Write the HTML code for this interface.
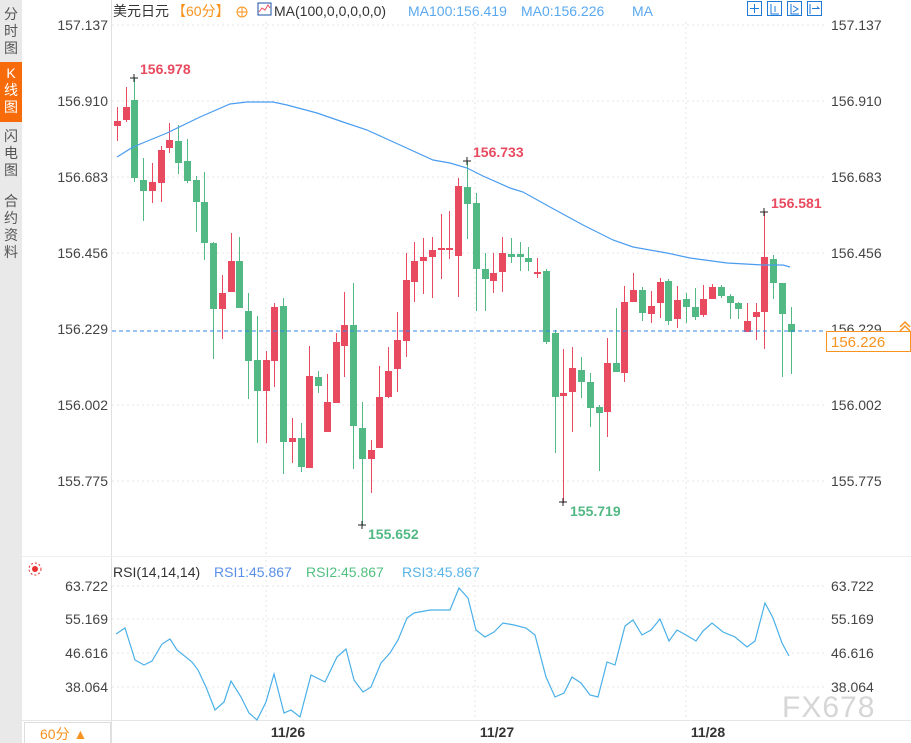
<!DOCTYPE html>
<html><head><meta charset="utf-8"><style>
body{margin:0;width:911px;height:743px;background:#fff;overflow:hidden;font-family:"Liberation Sans","Noto Sans CJK SC",sans-serif;position:relative}
.side{position:absolute;left:0;top:0;width:22px;height:743px;background:#e9e9e9}
.tab{position:absolute;left:0;width:22px;font-size:14px;line-height:17px;text-align:center;color:#555}
svg{position:absolute;left:0;top:0}
</style></head><body>
<div class="side"></div>
<div class="tab" style="top:6px">分<br>时<br>图</div>
<div class="tab" style="top:62px;height:60px;background:#f76b0b;color:#fff;padding-top:3px;box-sizing:border-box">K<br>线<br>图</div>
<div class="tab" style="top:128px">闪<br>电<br>图</div>
<div class="tab" style="top:193px">合<br>约<br>资<br>料</div>
<svg id="s" width="911" height="743" xmlns="http://www.w3.org/2000/svg" font-family="Liberation Sans, Noto Sans CJK SC, sans-serif">
<g stroke="#e4e4e4" stroke-dasharray="2,3">
<line x1="112" y1="25" x2="826" y2="25"/><line x1="112" y1="101" x2="826" y2="101"/><line x1="112" y1="177" x2="826" y2="177"/><line x1="112" y1="253" x2="826" y2="253"/><line x1="112" y1="405" x2="826" y2="405"/><line x1="112" y1="481" x2="826" y2="481"/>
<line x1="266" y1="22" x2="266" y2="556"/><line x1="475" y1="22" x2="475" y2="556"/><line x1="686" y1="22" x2="686" y2="556"/>
<line x1="112" y1="586" x2="826" y2="586"/><line x1="112" y1="619" x2="826" y2="619"/><line x1="112" y1="653" x2="826" y2="653"/><line x1="112" y1="687" x2="826" y2="687"/>
<line x1="266" y1="560" x2="266" y2="720"/><line x1="475" y1="560" x2="475" y2="720"/><line x1="686" y1="560" x2="686" y2="720"/>
</g>
<line x1="111.5" y1="0" x2="111.5" y2="743" stroke="#e0e0e0"/>
<line x1="22" y1="556.5" x2="911" y2="556.5" stroke="#eee"/>
<line x1="22" y1="720.5" x2="911" y2="720.5" stroke="#e6e6e6"/>
<g font-size="14" fill="#444" text-anchor="end">
<text x="108" y="30">157.137</text><text x="108" y="106">156.910</text><text x="108" y="182">156.683</text><text x="108" y="258">156.456</text><text x="108" y="334">156.229</text><text x="108" y="410">156.002</text><text x="108" y="486">155.775</text>
<text x="108" y="591">63.722</text><text x="108" y="624">55.169</text><text x="108" y="658">46.616</text><text x="108" y="692">38.064</text>
</g>
<g font-size="14" fill="#444">
<text x="831" y="30">157.137</text><text x="831" y="106">156.910</text><text x="831" y="182">156.683</text><text x="831" y="258">156.456</text><text x="831" y="334">156.229</text><text x="831" y="410">156.002</text><text x="831" y="486">155.775</text>
<text x="831" y="591">63.722</text><text x="831" y="624">55.169</text><text x="831" y="658">46.616</text><text x="831" y="692">38.064</text>
</g>
<g id="cd"></g>
<polyline fill="none" stroke="#4a9cf0" stroke-width="1.2" points="117,157 133,147 167,133 200,117 230,104 247,102 273,102 287,105 317,113 343,122 367,130 400,145 433,160 450,163 467,168 483,176 510,188 523,192 550,207 583,225 613,240 633,247 667,253 690,258 727,263 763,265 783,265 790,267"/>
<line x1="112" y1="331" x2="826" y2="331" stroke="#2f86e8" stroke-dasharray="4,3"/>
<rect x="826.5" y="331.5" width="84" height="20" fill="#fff" stroke="#f7931e"/>
<text x="831" y="347" font-size="15" fill="#f7931e">156.226</text>
<path d="M900 327 l5 -5 l5 5 M900 331 l5 -5 l5 5" stroke="#f7931e" fill="none" stroke-width="1.5"/>
<g font-size="14" font-weight="bold">
<text x="140" y="74" fill="#e84a5f">156.978</text>
<text x="473" y="157" fill="#e84a5f">156.733</text>
<text x="771" y="208" fill="#e84a5f">156.581</text>
<text x="368" y="539" fill="#52b985">155.652</text>
<text x="570" y="516" fill="#52b985">155.719</text>
</g>
<g stroke="#222" stroke-width="1">
<path d="M130 78h8M134 74v8M463 161h8M467 157v8M760 212h8M764 208v8M358 525h8M362 521v8M559 502h8M563 498v8"/>
</g>
<text x="113" y="16" font-size="14" fill="#333">美元日元</text>
<text x="172" y="16" font-size="14" fill="#f7931e">【60分】</text>
<circle cx="242" cy="12" r="5" fill="none" stroke="#f7931e"/><path d="M237 12h10M242 7v10" stroke="#f7931e"/>
<rect x="258" y="3" width="13" height="12" fill="#fff" stroke="#1b4fa8"/><path d="M259 12l3-4 3 2 3-5 2 3" stroke="#e84a5f" fill="none"/>
<text x="274" y="16" font-size="14" fill="#333">MA(100,0,0,0,0,0)</text>
<text x="408" y="16" font-size="14" fill="#5aa9f0">MA100:156.419</text>
<text x="521" y="16" font-size="14" fill="#5aa9f0">MA0:156.226</text>
<text x="632" y="16" font-size="14" fill="#5aa9f0">MA</text>
<g stroke="#1e7ad6" fill="none"><rect x="747.5" y="1.5" width="14" height="14"/><rect x="767.5" y="1.5" width="14" height="14"/><rect x="787.5" y="1.5" width="14" height="14"/><rect x="807.5" y="1.5" width="14" height="14"/>
<path d="M750 8.5h9M754.5 4v9M771 4v10h8M775 6v6M791 4v10h8M793 6l5 3-5 3M810 4v10M812 8.5h7l-2-2"/></g>
<circle cx="35" cy="569" r="3" fill="#e83030"/><circle cx="35" cy="569" r="6" fill="none" stroke="#e83030" stroke-dasharray="2,2"/>
<text x="113" y="577" font-size="14" fill="#333">RSI(14,14,14)</text>
<text x="214" y="577" font-size="14" fill="#5a8fe8">RSI1:45.867</text>
<text x="306" y="577" font-size="14" fill="#52c080">RSI2:45.867</text>
<text x="402" y="577" font-size="14" fill="#5ab4e8">RSI3:45.867</text>
<polyline fill="none" stroke="#4ab0e8" stroke-width="1.2" points="116,634 125,628 135,660 144,665 152,661 162,644 170,639 177,650 192,662 198,670 206,687 215,710 224,702 231,681 241,697 249,713 257,720 266,702 274,674 284,713 291,710 300,717 311,675 325,682 337,657 346,649 354,680 363,692 371,687 381,663 390,653 398,640 407,618 414,613 430,610 450,610 459,588 468,598 476,630 485,637 494,632 503,623 514,625 526,628 535,635 546,677 555,697 564,693 572,677 581,683 590,695 598,697 607,662 615,665 625,626 633,620 642,635 651,630 660,619 669,641 677,630 686,635 696,641 703,631 712,623 723,632 735,637 747,647 755,641 765,603 773,618 782,643 789,656"/>
<text x="782" y="717" font-size="30" fill="#d6d6d6" letter-spacing="1">FX678</text>
<rect x="24.5" y="722.5" width="86" height="22" fill="#fff" stroke="#ddd"/>
<text x="40" y="739" font-size="14" fill="#f7931e">60分 ▲</text>
<g font-size="14" font-weight="bold" fill="#333" text-anchor="middle">
<text x="288" y="737">11/26</text><text x="497" y="737">11/27</text><text x="708" y="737">11/28</text></g>
</svg>
<script>
var d=[[117,121,126,107,141,1],[126,107,120,87,122,1],[134,100,178,78,182,0],[143,180,191,158,221,0],[152,182,191,163,203,1],[161,150,183,146,202,1],[169,140,148,123,153,1],[178,141,163,125,174,0],[187,161,181,139,183,0],[196,180,202,176,232,0],[204,202,243,172,260,0],[213,243,309,242,359,0],[222,293,309,275,339,1],[231,261,292,233,292,1],[239,261,308,237,308,0],[248,311,361,293,399,0],[257,360,391,316,443,0],[266,360,391,351,443,1],[274,307,361,303,387,1],[283,306,442,298,474,0],[292,438,442,418,463,1],[301,438,467,423,472,0],[309,376,468,346,468,1],[318,377,386,371,393,0],[327,402,432,374,432,1],[336,342,403,333,403,1],[344,325,346,292,377,1],[353,325,426,283,469,0],[362,428,459,402,525,0],[371,450,459,440,493,1],[379,397,448,366,448,1],[388,371,397,347,398,1],[397,340,369,312,392,1],[406,280,341,253,357,1],[414,261,282,242,302,1],[423,257,261,238,294,1],[432,250,257,237,298,1],[441,248,249,214,279,1],[449,248,249,211,259,1],[458,186,256,178,297,1],[467,187,204,161,239,0],[476,203,269,193,311,0],[485,269,279,253,311,0],[493,273,281,253,293,1],[502,253,272,237,292,1],[511,254,257,238,263,0],[520,254,257,242,271,0],[528,258,262,247,271,0],[537,272,273,258,278,1],[546,271,342,269,344,0],[555,333,397,330,453,0],[563,393,396,349,503,1],[572,368,392,347,432,1],[581,370,382,357,398,0],[590,382,408,373,427,0],[599,407,413,405,471,0],[607,363,412,338,437,1],[616,363,372,308,372,0],[624,302,373,286,382,1],[633,290,302,273,302,1],[642,290,313,287,321,0],[651,306,314,291,323,1],[660,282,303,278,318,1],[668,281,321,279,325,0],[677,300,319,286,328,1],[686,299,307,293,323,0],[695,307,317,288,320,0],[703,299,315,285,317,1],[712,287,299,284,299,1],[721,287,296,285,298,0],[730,296,303,294,319,0],[738,303,309,302,319,0],[747,321,332,303,332,1],[756,312,317,303,340,1],[764,257,312,212,349,1],[773,259,283,255,299,0],[782,283,314,283,377,0],[791,324,332,307,374,0]];
var s='';d.forEach(function(c){var col=c[5]?'#e84a5f':'#52b985';var h=Math.max(2,c[2]-c[1]);s+='<line x1="'+(c[0]+.5)+'" y1="'+c[3]+'" x2="'+(c[0]+.5)+'" y2="'+c[4]+'" stroke="'+col+'"/><rect x="'+(c[0]-3)+'" y="'+c[1]+'" width="7" height="'+h+'" fill="'+col+'"/>';});
document.getElementById('cd').innerHTML=s;
</script>
</body></html>
